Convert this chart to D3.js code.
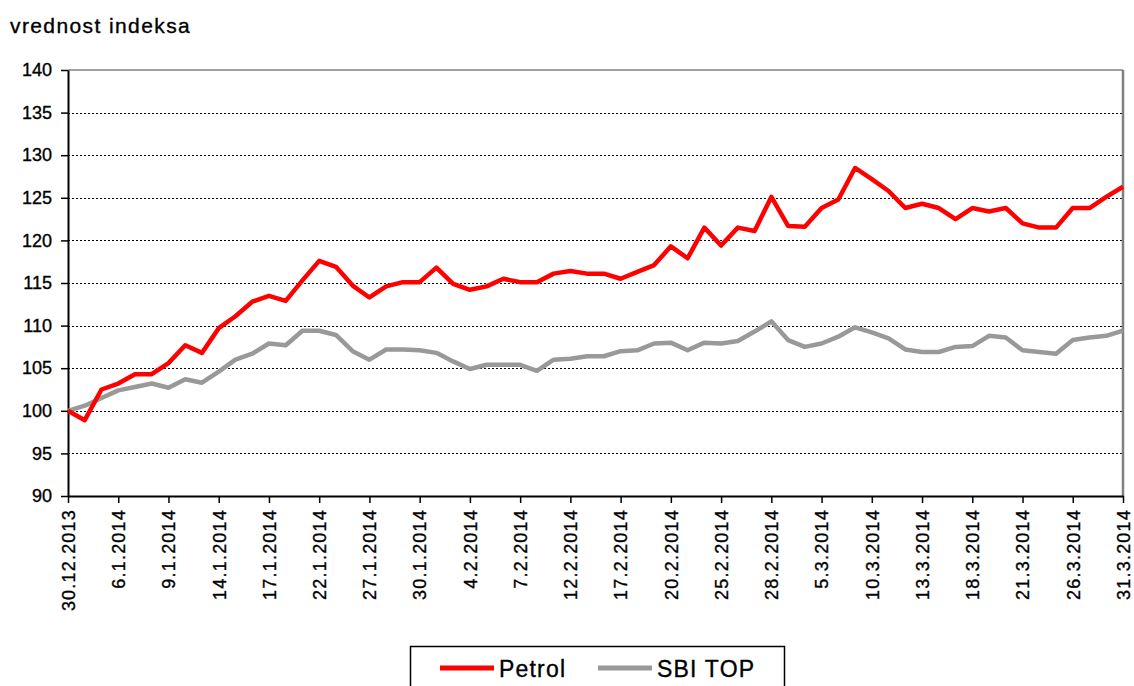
<!DOCTYPE html>
<html>
<head>
<meta charset="utf-8">
<script src="https://cdn.jsdelivr.net/npm/d3@7"></script>
<style>
  body { margin: 0; background: #fff; }
  svg { font-family: "Liberation Sans", Arial, sans-serif; }
</style>
</head>
<body>
<div id="chart"></div>
<script>
// trading days, 30.12.2013 - 31.3.2014
const dates = [
  "30.12.2013", "31.12.2013", "3.1.2014", "6.1.2014", "7.1.2014", "8.1.2014", "9.1.2014",
  "10.1.2014", "13.1.2014", "14.1.2014", "15.1.2014", "16.1.2014", "17.1.2014",
  "20.1.2014", "21.1.2014", "22.1.2014", "23.1.2014", "24.1.2014", "27.1.2014",
  "28.1.2014", "29.1.2014", "30.1.2014", "31.1.2014", "3.2.2014", "4.2.2014",
  "5.2.2014", "6.2.2014", "7.2.2014", "10.2.2014", "11.2.2014", "12.2.2014",
  "13.2.2014", "14.2.2014", "17.2.2014", "18.2.2014", "19.2.2014", "20.2.2014",
  "21.2.2014", "24.2.2014", "25.2.2014", "26.2.2014", "27.2.2014", "28.2.2014",
  "3.3.2014", "4.3.2014", "5.3.2014", "6.3.2014", "7.3.2014", "10.3.2014",
  "11.3.2014", "12.3.2014", "13.3.2014", "14.3.2014", "17.3.2014", "18.3.2014",
  "19.3.2014", "20.3.2014", "21.3.2014", "24.3.2014", "25.3.2014", "26.3.2014",
  "27.3.2014", "28.3.2014", "31.3.2014"
];

const petrol = [
  100.0, 98.9, 102.5, 103.2, 104.3, 104.3, 105.6, 107.7, 106.8, 109.7,
  111.1, 112.8, 113.5, 112.9, 115.3, 117.6, 116.9, 114.7, 113.3, 114.6,
  115.1, 115.1, 116.8, 114.9, 114.2, 114.6, 115.5, 115.1, 115.1, 116.1,
  116.4, 116.1, 116.1, 115.5, 116.3, 117.1, 119.3, 117.9, 121.5, 119.4,
  121.5, 121.1, 125.1, 121.7, 121.6, 123.8, 124.8, 128.5, 127.2, 125.8,
  123.8, 124.3, 123.8, 122.5, 123.8, 123.4, 123.8, 122.0, 121.5, 121.5,
  123.8, 123.8, 125.1, 126.3
];

const sbiTop = [
  100.0, 100.6, 101.5, 102.4, 102.8, 103.2, 102.7, 103.7, 103.3, 104.6,
  106.0, 106.7, 107.9, 107.7, 109.4, 109.4, 108.9, 107.0, 106.0, 107.2,
  107.2, 107.1, 106.8, 105.8, 104.9, 105.4, 105.4, 105.4, 104.7, 106.0,
  106.1, 106.4, 106.4, 107.0, 107.1, 107.9, 108.0, 107.1, 108.0, 107.9,
  108.2, 109.3, 110.5, 108.3, 107.5, 107.9, 108.7, 109.8, 109.2, 108.5,
  107.2, 106.9, 106.9, 107.5, 107.6, 108.8, 108.6, 107.1, 106.9, 106.7,
  108.3, 108.6, 108.8, 109.4
];

const yTicks = [90, 95, 100, 105, 110, 115, 120, 125, 130, 135, 140];
const tickDates = dates.filter((d, i) => i % 3 === 0);

const width = 1134, height = 686;
const plot = {left: 68, right: 1123, top: 70, bottom: 496};

const svg = d3.select("#chart").append("svg")
  .attr("width", width)
  .attr("height", height);

const x = d3.scalePoint().domain(dates).range([plot.left, plot.right]);
const y = d3.scaleLinear().domain([90, 140]).range([plot.bottom, plot.top]);

// text in the source is heavy, a thin stroke imitates that
function heavy(sel) {
  sel.attr("fill", "#000").attr("stroke", "#000").attr("stroke-width", 0.35);
}

// title
svg.append("text")
  .attr("x", 10).attr("y", 33)
  .style("font-size", "21px")
  .style("letter-spacing", "1.4px")
  .call(heavy)
  .text("vrednost indeksa");

// grid
svg.append("g")
  .selectAll("line")
  .data(yTicks.filter(v => v > 90 && v < 140))
  .join("line")
  .attr("x1", plot.left).attr("x2", plot.right)
  .attr("y1", d => Math.round(y(d)) + 0.5).attr("y2", d => Math.round(y(d)) + 0.5)
  .attr("stroke", "#000")
  .attr("stroke-width", 1)
  .attr("stroke-dasharray", "2,2");

// plot border top/right
svg.append("line")
  .attr("x1", plot.left).attr("x2", plot.right)
  .attr("y1", plot.top).attr("y2", plot.top)
  .attr("stroke", "#808080").attr("stroke-width", 1.5);
svg.append("line")
  .attr("x1", plot.right).attr("x2", plot.right)
  .attr("y1", plot.top).attr("y2", plot.bottom)
  .attr("stroke", "#808080").attr("stroke-width", 2.5);

// y axis
const yAxis = svg.append("g")
  .attr("transform", `translate(${plot.left},0)`)
  .call(d3.axisLeft(y).tickValues(yTicks).tickSize(7).tickPadding(9).tickSizeOuter(0));
yAxis.select(".domain").attr("stroke", "#000").attr("stroke-width", 2);
yAxis.selectAll(".tick line").attr("stroke", "#000").attr("stroke-width", 1.5);
yAxis.selectAll(".tick text")
  .style("font-size", "18px")
  .style("font-family", "'Liberation Sans', Arial, sans-serif")
  .call(heavy);

// x axis
const xAxis = svg.append("g")
  .attr("transform", `translate(0,${plot.bottom})`)
  .call(d3.axisBottom(x).tickValues(tickDates).tickSize(7).tickSizeOuter(0));
xAxis.select(".domain").attr("stroke", "#000").attr("stroke-width", 2);
xAxis.selectAll(".tick line").attr("stroke", "#000").attr("stroke-width", 1.5);
xAxis.selectAll(".tick text")
  .style("font-size", "18px")
  .style("font-family", "'Liberation Sans', Arial, sans-serif")
  .style("letter-spacing", "1.2px")
  .call(heavy)
  .attr("text-anchor", "end")
  .attr("transform", "rotate(-90)")
  .attr("x", -13)
  .attr("y", 0)
  .attr("dy", "0.35em");

// lines
const line = d3.line()
  .x((d, i) => x(dates[i]))
  .y(d => y(d));

svg.append("path")
  .datum(sbiTop)
  .attr("fill", "none")
  .attr("stroke", "#999999")
  .attr("stroke-width", 4.5)
  .attr("stroke-linejoin", "round")
  .attr("d", line);

svg.append("path")
  .datum(petrol)
  .attr("fill", "none")
  .attr("stroke", "#ff0000")
  .attr("stroke-width", 4.5)
  .attr("stroke-linejoin", "round")
  .attr("d", line);

// legend
const legend = svg.append("g");
legend.append("rect")
  .attr("x", 410.5).attr("y", 646.5)
  .attr("width", 374).attr("height", 50)
  .attr("fill", "#fff")
  .attr("stroke", "#000").attr("stroke-width", 1.5);

const items = [
  {name: "Petrol", color: "#ff0000", x0: 440},
  {name: "SBI TOP", color: "#999999", x0: 598}
];
items.forEach(it => {
  legend.append("line")
    .attr("x1", it.x0).attr("x2", it.x0 + 54)
    .attr("y1", 668).attr("y2", 668)
    .attr("stroke", it.color).attr("stroke-width", 5);
  legend.append("text")
    .attr("x", it.x0 + 59).attr("y", 677)
    .style("font-size", "23px")
    .style("letter-spacing", "1.2px")
    .call(heavy)
    .text(it.name);
});
</script>
</body>
</html>
